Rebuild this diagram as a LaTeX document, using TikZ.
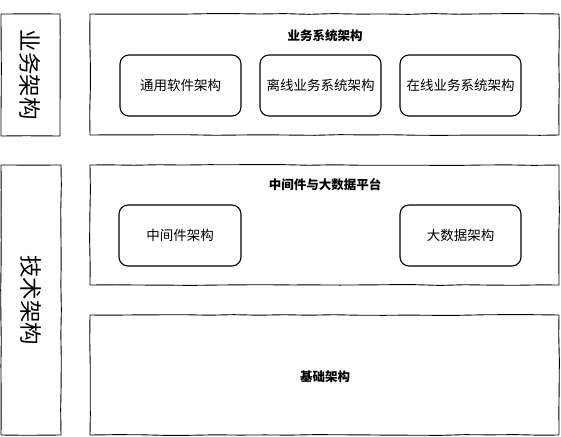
\documentclass[tikz,border=0pt]{standalone}
\usepackage{fontspec}
\setmainfont{Noto Sans CJK SC}
\usetikzlibrary{decorations.pathmorphing}

\begin{document}
\begin{tikzpicture}[x=1pt,y=1pt,%%
  lineStyle/.style={draw,line width=0.9pt,line join=round,decorate,%%
    decoration={random steps,segment length=25pt,amplitude=0.4pt}},%%
  layerStyle/.style={lineStyle,rectangle,minimum width=469pt,minimum height=120pt,inner sep=0pt},%%
  sideStyle/.style={lineStyle,rectangle,rotate=-90,inner sep=0pt,font=\fontsize{22.5}{26}\selectfont},%%
  partStyle/.style={draw,line width=1.1pt,rectangle,rounded corners=9pt,minimum width=121pt,minimum height=61pt,%%
    inner sep=0pt,font=\fontsize{13.5}{16}\selectfont},%%
  titleStyle/.style={inner sep=1pt,font=\bfseries\fontsize{12.5}{15}\selectfont}%%
]
\pgfmathsetseed{11}
\useasboundingbox (0,0) rectangle (561,-436);
%%
%%
\pgfmathsetmacro{\dx}{140}
%%
\coordinate (Business) at (30.5,-75);
\coordinate (Technical) at (31,-300);
\coordinate (BizLayer) at (324.5,-74.5);
\coordinate (MidLayer) at (324.5,-225);
\coordinate (BaseLayer) at (324.5,-375);
\coordinate (Common) at (180.5,-85.5);
\coordinate (Offline) at (180.5+\dx,-85.5);
\coordinate (Online) at (180.5+2*\dx,-85.5);
\coordinate (Middleware) at (180,-235.5);
\coordinate (BigData) at (460.5,-235.5);
%%
%%
%% Draw the side labels.
\node (BizSide) at (Business) [sideStyle,minimum width=122pt,minimum height=59pt] {业务架构};
\node (TechSide) at (Technical) [sideStyle,minimum width=270pt,minimum height=60pt] {技术架构};
%% Layers.
\node (BizBox) at (BizLayer) [layerStyle,minimum height=121pt] {};
\node (MidBox) at (MidLayer) [layerStyle] {};
\node (BaseBox) at (BaseLayer) [layerStyle] {};
%% Layer titles.
\node (BizTitle) at (325,-36) [titleStyle] {业务系统架构};
\node (MidTitle) at (325,-185) [titleStyle] {中间件与大数据平台};
\node (BaseTitle) at (325,-377) [titleStyle] {基础架构};
%% Parts inside the layers.
\node (CommonBox) at (Common) [partStyle] {通用软件架构};
\node (OfflineBox) at (Offline) [partStyle] {离线业务系统架构};
\node (OnlineBox) at (Online) [partStyle] {在线业务系统架构};
\node (MiddlewareBox) at (Middleware) [partStyle,minimum width=122pt] {中间件架构};
\node (BigDataBox) at (BigData) [partStyle] {大数据架构};
\end{tikzpicture}
\end{document}
